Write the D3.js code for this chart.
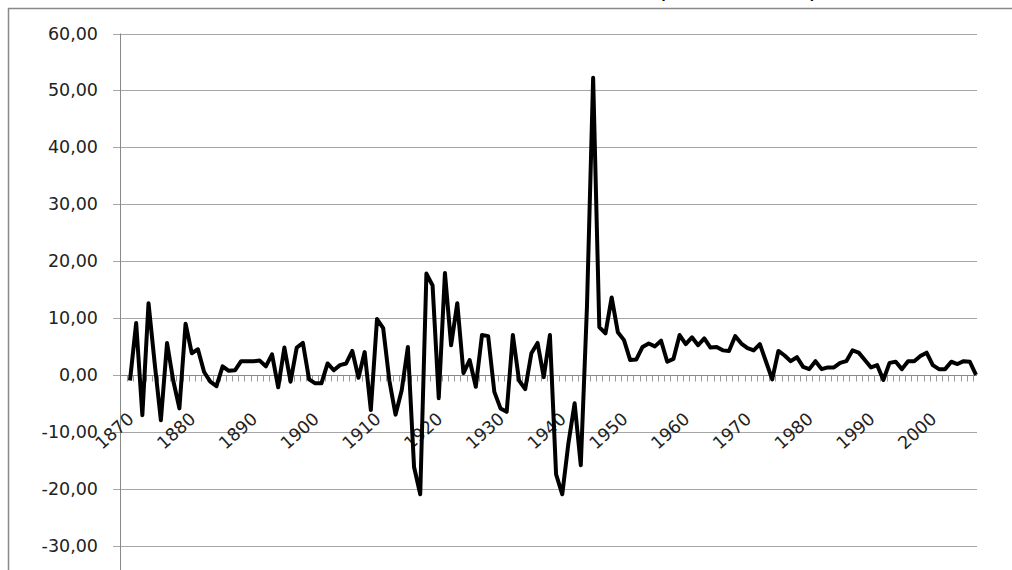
<!DOCTYPE html>
<html>
<head>
<meta charset="UTF-8">
<style>
  body { margin: 0; background: #fff; }
  text { font-family: "DejaVu Sans", "Liberation Sans", sans-serif; }
</style>
</head>
<body>
<svg></svg>
<script src="https://d3js.org/d3.v7.min.js"></script>
<script>
  const startYear = 1870;
  const values = [
    -1, 9.1, -7.1, 12.6, 2, -8, 5.6, -1, -5.9, 9,
    3.8, 4.5, 0.5, -1.2, -2, 1.5, 0.7, 0.8, 2.4, 2.4,
    2.4, 2.5, 1.5, 3.6, -2.2, 4.8, -1.2, 4.8, 5.6, -0.8,
    -1.5, -1.5, 2, 0.8, 1.7, 2, 4.2, -0.5, 4, -6.2,
    9.8, 8.2, -1, -7, -2.7, 4.9, -16.2, -21, 17.8, 15.7,
    -4.1, 17.9, 5.2, 12.6, 0.3, 2.6, -2.1, 7, 6.8, -3,
    -5.9, -6.5, 7, -1, -2.5, 3.8, 5.6, -0.4, 7, -17.5,
    -21, -12, -5, -15.9, 12, 52.2, 8.4, 7.3, 13.6, 7.5,
    6.1, 2.6, 2.7, 4.9, 5.5, 5, 6, 2.3, 2.8,
    7, 5.4, 6.6, 5.2, 6.4, 4.8, 4.9, 4.3, 4.2, 6.8,
    5.5, 4.7, 4.3, 5.4, 2.3, -0.8, 4.2, 3.4, 2.4, 3.1,
    1.4, 1.0, 2.4, 1.0, 1.3, 1.3, 2.1, 2.4, 4.3, 3.9,
    2.6, 1.3, 1.7, -0.9, 2.1, 2.3, 1.0, 2.4, 2.4, 3.3,
    3.9, 1.7, 1.0, 1.0, 2.3, 1.9, 2.4, 2.3, 0
  ];
  const years = values.map((v, i) => startYear + i);
  const yTicks = [-30, -20, -10, 0, 10, 20, 30, 40, 50, 60];
  const labelYears = years.filter(y => (y - startYear) % 10 === 0);

  const W = 1012, H = 570;
  const svg = d3.select("svg").attr("width", W).attr("height", H);

  // frame
  svg.append("path")
    .attr("d", "M8.5,570 V8.5 H1012")
    .attr("fill", "none").attr("stroke", "#888").attr("stroke-width", 1.5);

  // title, cut off at the top edge as in the source
  svg.append("text")
    .attr("x", 600).attr("y", -3)
    .attr("text-anchor", "middle")
    .attr("font-family", "Liberation Serif, serif")
    .attr("font-size", 26)
    .text("Taxa de crescimento (1870-2007)");

  const plotLeft = 120, plotRight = 977;
  const x = d3.scalePoint().domain(years).range([130, 976]);
  const y = d3.scaleLinear().domain([-30, 60]).range([545.5, 33.5]);

  // gridlines
  svg.append("g").selectAll("line").data(yTicks).join("line")
    .attr("x1", plotLeft - 7).attr("x2", plotRight)
    .attr("y1", d => Math.round(y(d)) + 0.5).attr("y2", d => Math.round(y(d)) + 0.5)
    .attr("stroke", "#a6a6a6").attr("stroke-width", 1);

  // y axis line
  svg.append("line")
    .attr("x1", plotLeft + 0.5).attr("x2", plotLeft + 0.5)
    .attr("y1", y(60)).attr("y2", H)
    .attr("stroke", "#888");

  // y labels
  const fmt = d => d3.format(".2f")(d).replace(".", ",").replace("\u2212", "-");
  svg.append("g").selectAll("text").data(yTicks).join("text")
    .attr("x", 98).attr("y", d => y(d) + 6)
    .attr("text-anchor", "end")
    .attr("font-size", 17.5)
    .attr("fill", "#222")
    .text(fmt);

  // zero axis with tick marks
  const y0 = Math.round(y(0)) + 0.5;
  svg.append("line")
    .attr("x1", plotLeft).attr("x2", plotRight)
    .attr("y1", y0).attr("y2", y0)
    .attr("stroke", "#888");
  svg.append("g").selectAll("line").data(years).join("line")
    .attr("x1", d => Math.round(x(d) - 3) + 0.5).attr("x2", d => Math.round(x(d) - 3) + 0.5)
    .attr("y1", y0).attr("y2", y0 + 6)
    .attr("stroke", "#999");

  // x labels
  svg.append("g").selectAll("text").data(labelYears).join("text")
    .attr("transform", d => `translate(${x(d) + 5},${y0 + 45}) rotate(-42)`)
    .attr("text-anchor", "end")
    .attr("font-size", 17.5)
    .attr("fill", "#222")
    .text(d => d);

  // line
  svg.append("path")
    .datum(values)
    .attr("fill", "none")
    .attr("stroke", "#000")
    .attr("stroke-width", 4)
    .attr("stroke-linejoin", "round")
    .attr("d", d3.line().x((d, i) => x(years[i])).y(d => y(d)));
</script>
</body>
</html>
